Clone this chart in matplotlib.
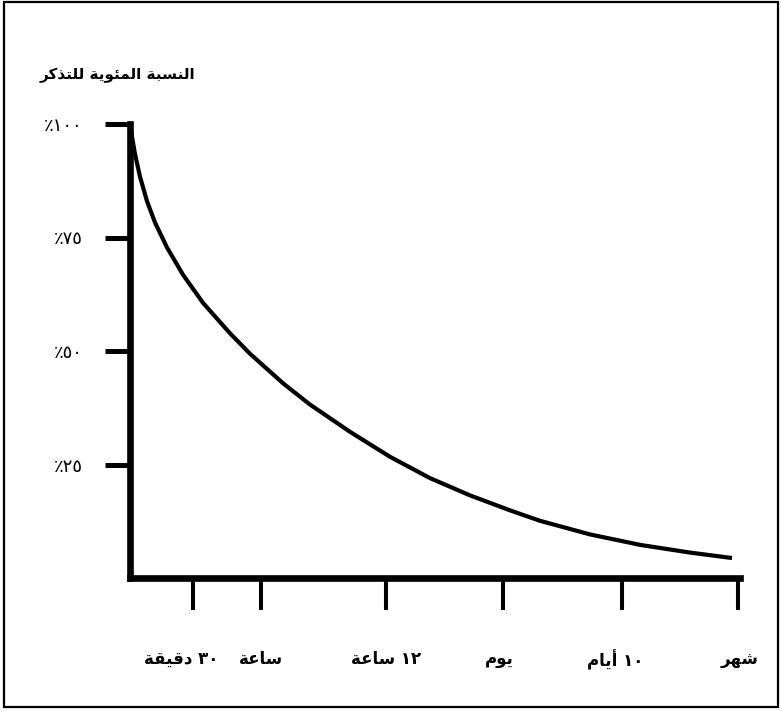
import matplotlib
matplotlib.use("Agg")
import matplotlib.pyplot as plt
import matplotlib.transforms as mtransforms
from matplotlib.patches import Rectangle

# Arabic letter forms (isolated, final, initial, medial) from Presentation Forms-B,
# because matplotlib does not join Arabic letters by itself
FORMS = {
    "ا": (0xFE8D, 0xFE8E, None, None),
    "أ": (0xFE83, 0xFE84, None, None),
    "ب": (0xFE8F, 0xFE90, 0xFE91, 0xFE92),
    "ة": (0xFE93, 0xFE94, None, None),
    "ت": (0xFE95, 0xFE96, 0xFE97, 0xFE98),
    "د": (0xFEA9, 0xFEAA, None, None),
    "ذ": (0xFEAB, 0xFEAC, None, None),
    "ر": (0xFEAD, 0xFEAE, None, None),
    "س": (0xFEB1, 0xFEB2, 0xFEB3, 0xFEB4),
    "ش": (0xFEB5, 0xFEB6, 0xFEB7, 0xFEB8),
    "ع": (0xFEC9, 0xFECA, 0xFECB, 0xFECC),
    "ق": (0xFED5, 0xFED6, 0xFED7, 0xFED8),
    "ك": (0xFED9, 0xFEDA, 0xFEDB, 0xFEDC),
    "ل": (0xFEDD, 0xFEDE, 0xFEDF, 0xFEE0),
    "م": (0xFEE1, 0xFEE2, 0xFEE3, 0xFEE4),
    "ن": (0xFEE5, 0xFEE6, 0xFEE7, 0xFEE8),
    "ه": (0xFEE9, 0xFEEA, 0xFEEB, 0xFEEC),
    "و": (0xFEED, 0xFEEE, None, None),
    "ي": (0xFEF1, 0xFEF2, 0xFEF3, 0xFEF4),
    "ئ": (0xFE89, 0xFE8A, 0xFE8B, 0xFE8C),
}


def shape(word):
    # join letters and flip to visual (left to right) order
    if not any(ch in FORMS for ch in word):
        return word
    out = []
    for i, ch in enumerate(word):
        if ch not in FORMS:
            out.append(ch)
            continue
        iso, fin, ini, med = FORMS[ch]
        prev_j = i > 0 and word[i - 1] in FORMS and FORMS[word[i - 1]][2] is not None
        next_j = i < len(word) - 1 and word[i + 1] in FORMS and ini is not None
        if prev_j and next_j:
            code = med
        elif prev_j:
            code = fin
        elif next_j:
            code = ini
        else:
            code = iso
        out.append(chr(code))
    return "".join(out)[::-1]


def rtl(text):
    # right-to-left sentence: words shaped, word order reversed
    return " ".join(shape(w) for w in reversed(text.split()))


# --- data ---
title = "النسبة المئوية للتذكر"

y_ticks = [25, 50, 75, 100]
y_labels = ["٪٢٥", "٪٥٠", "٪٧٥", "٪١٠٠"]

# time axis is not to scale: positions measured along the axis (0..610)
x_ticks = [62.5, 131, 256, 373, 492, 608]
x_labels = ["٣٠ دقيقة", "ساعة", "١٢ ساعة", "يوم", "١٠ أيام", "شهر"]

curve_x = [0, 2, 5, 10, 17, 25, 37, 53, 73, 100, 120, 153, 180, 220,
           260, 300, 340, 380, 410, 460, 510, 560, 602]
curve_y = [100.0, 97.2, 93.4, 88.4, 83.0, 78.3, 72.8, 66.8, 60.6, 53.9,
           49.4, 42.9, 38.2, 32.2, 26.7, 22.0, 18.2, 14.9, 12.6, 9.6,
           7.3, 5.6, 4.4]

# labels in the picture sit a little off their ticks (pixels)
label_shift = [-11, 0, 0, -4, -7, 2]

plt.rcParams["font.family"] = ["DejaVu Sans"]

fig = plt.figure(figsize=(7.81, 7.11), dpi=100)
ax = fig.add_axes([130 / 781, 133 / 711, 610 / 781, 454 / 711])

ax.plot(curve_x, curve_y, color="black", linewidth=3, solid_capstyle="butt",
        solid_joinstyle="round")

ax.set_xlim(0, 610)
ax.set_ylim(0, 100)

for side in ["top", "right"]:
    ax.spines[side].set_visible(False)
for side in ["left", "bottom"]:
    ax.spines[side].set_linewidth(4.8)
    ax.spines[side].set_capstyle("projecting")

ax.set_yticks(y_ticks)
ax.set_yticklabels(y_labels, fontsize=13)
ax.set_xticks(x_ticks)
ax.set_xticklabels([rtl(s) for s in x_labels], fontsize=12, fontweight="bold")

ax.tick_params(axis="y", direction="out", length=18, width=3.6, pad=16)
ax.tick_params(axis="x", direction="out", length=23, width=2.9, pad=29)

for lab, dx in zip(ax.get_xticklabels(), label_shift):
    off = mtransforms.ScaledTranslation(dx / 100, 0, fig.dpi_scale_trans)
    lab.set_transform(lab.get_transform() + off)

fig.text(195 / 781, 1 - 75 / 711, rtl(title), ha="right", va="center",
         fontsize=11, fontweight="bold")

# outer frame
fig.patches.append(Rectangle((4 / 781, 4 / 711), 774 / 781, 705 / 711,
                             transform=fig.transFigure, fill=False,
                             edgecolor="black", linewidth=1.6))

fig.savefig("out.png", dpi=100)
